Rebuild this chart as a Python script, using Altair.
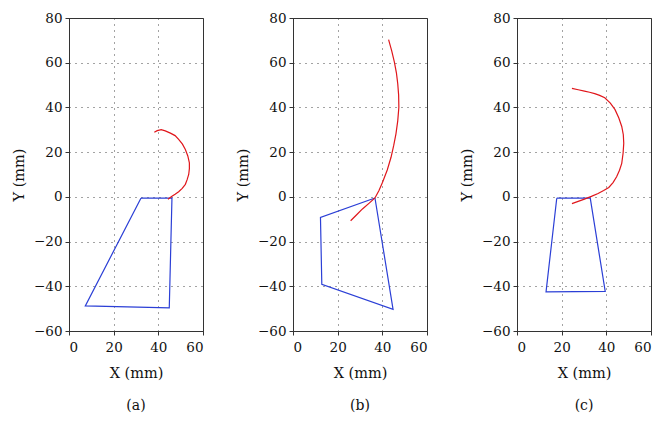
import altair as alt
import pandas as pd

# Panel (a)
a_poly_x = [32.2, 46.1, 44.9, 7.3, 32.2]
a_poly_y = [-0.6, -0.6, -49.7, -48.8, -0.6]
a_curve_x = [38.2, 39.5, 41.3, 43.1, 45.4, 47.5, 49.1, 50.8, 52.1, 53.2, 53.9, 53.9, 53.6, 52.9, 52.1, 50.7, 49.1, 47.5, 46.1, 44.3]
a_curve_y = [28.9, 29.6, 30.1, 29.5, 28.5, 27.4, 25.7, 23.6, 21.2, 18.3, 15.2, 12.6, 10.0, 7.7, 5.6, 3.8, 2.3, 1.2, 0.3, -1.1]

# Panel (b)
b_poly_x = [36.7, 12.3, 12.9, 44.8, 36.7]
b_poly_y = [-0.5, -9.2, -39.1, -50.3, -0.5]
b_curve_x = [25.8, 28.5, 31.1, 34.0, 36.7, 38.5, 40.1, 42.2, 43.9, 45.1, 46.1, 46.9, 47.4, 47.3, 46.9, 46.3, 45.4, 44.2, 42.8]
b_curve_y = [-10.7, -8.0, -5.4, -2.9, -0.5, 2.8, 6.5, 12.0, 17.7, 23.0, 28.2, 34.0, 40.1, 45.5, 50.6, 55.5, 60.3, 65.3, 70.3]

# Panel (c)
c_poly_x = [17.8, 32.8, 39.5, 13.0, 17.8]
c_poly_y = [-0.6, -0.6, -42.3, -42.5, -0.6]
c_curve_x = [24.6, 27.4, 30.2, 33.3, 36.3, 38.8, 41.1, 43.0, 44.6, 45.9, 46.9, 47.5, 47.8, 47.6, 46.9, 45.6, 43.9, 41.8, 39.3, 37.0, 34.8, 32.5, 30.2, 27.4, 24.6]
c_curve_y = [-3.0, -2.0, -1.0, 0.2, 1.5, 2.8, 4.2, 6.4, 9.0, 11.9, 15.0, 19.5, 24.0, 27.8, 31.5, 35.3, 39.0, 41.9, 44.3, 45.4, 46.2, 46.8, 47.3, 47.9, 48.5]

panels = [
    ("(a)", a_poly_x, a_poly_y, a_curve_x, a_curve_y),
    ("(b)", b_poly_x, b_poly_y, b_curve_x, b_curve_y),
    ("(c)", c_poly_x, c_poly_y, c_curve_x, c_curve_y),
]

x_ticks = [0, 20, 40, 60]
y_ticks = [-60, -40, -20, 0, 20, 40, 60, 80]

FONT = "DejaVu Serif"


def make_panel(label, px, py, cx, cy):
    df = pd.DataFrame(
        [{"x": x, "y": y, "s": "poly", "i": i} for i, (x, y) in enumerate(zip(px, py))]
        + [{"x": x, "y": y, "s": "curve", "i": i} for i, (x, y) in enumerate(zip(cx, cy))]
    )
    xenc = alt.X("x:Q", scale=alt.Scale(domain=[0, 60], nice=False),
                 axis=alt.Axis(values=x_ticks, title="X (mm)"))
    yenc = alt.Y("y:Q", scale=alt.Scale(domain=[-60, 80], nice=False),
                 axis=alt.Axis(values=y_ticks, title="Y (mm)"))
    return (
        alt.Chart(df)
        .mark_line(strokeWidth=1.2)
        .encode(
            x=xenc,
            y=yenc,
            detail="s:N",
            order="i:Q",
            color=alt.Color("s:N", scale=alt.Scale(domain=["poly", "curve"], range=["#2b3fd6", "#e0161b"]), legend=None),
        )
        .properties(
            width=134, height=313,
            title=alt.TitleParams(label, orient="bottom", font=FONT, fontSize=14, fontWeight="normal", color="#111", offset=19),
        )
    )


chart = alt.hconcat(*[make_panel(*p) for p in panels], spacing=31).configure_view(
    stroke="#333", strokeWidth=1
).configure_axis(
    labelFont=FONT, titleFont=FONT, labelFontSize=13.5, titleFontSize=14.5,
    titleFontWeight="normal", labelColor="#111", titleColor="#111",
    domainColor="#333", tickColor="#333", tickSize=4,
    gridColor="#333", gridDash=[1, 5], gridOpacity=0.9, gridWidth=1,
    labelPadding=3,
).configure_axisY(titlePadding=7).configure_axisX(titlePadding=13, labelPadding=5).properties(
    padding={"left": 3, "top": 2, "right": 5, "bottom": 5}
)

chart.save("out.html", embed_options={"renderer": "svg", "actions": False})
